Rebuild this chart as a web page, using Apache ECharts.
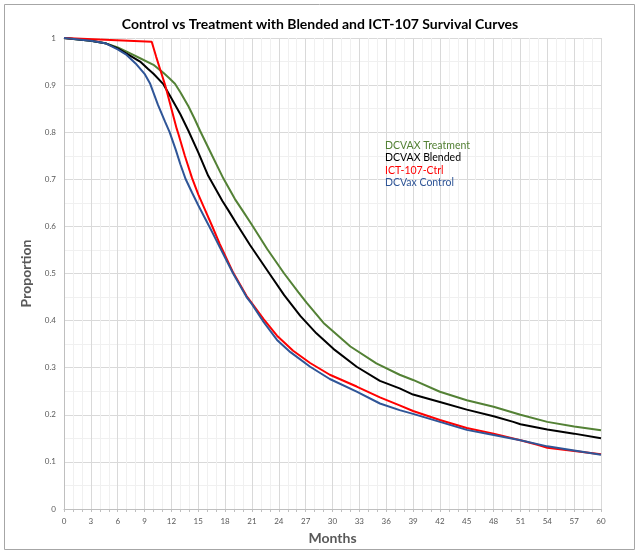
<!DOCTYPE html>
<html>
<head>
<meta charset="utf-8">
<script src="https://cdn.jsdelivr.net/npm/echarts@6/dist/echarts.min.js"></script>
<style>
html,body{margin:0;padding:0;background:#fff;}
#chart{width:640px;height:556px;}
</style>
</head>
<body>
<div id="chart"></div>
<script>
const seriesNames = ['DCVAX Treatment', 'DCVAX Blended', 'ICT-107-Ctrl', 'DCVax Control'];

const treatmentMonths = [0, 3, 4.6, 6, 7, 8.5, 10, 11.1, 11.8, 12.4, 13.0, 13.9, 14.6, 15.2, 16.3, 17.8, 19.1, 19.9, 20.9, 22.7, 24.6, 26.2, 27.1, 29, 32, 34.9, 37.5, 39, 42, 45, 48, 51, 54, 57, 60];
const treatmentValues = [1, 0.994, 0.989, 0.98, 0.971, 0.957, 0.943, 0.926, 0.914, 0.903, 0.885, 0.855, 0.828, 0.803, 0.760, 0.702, 0.658, 0.635, 0.606, 0.552, 0.500, 0.460, 0.438, 0.395, 0.345, 0.309, 0.285, 0.274, 0.249, 0.231, 0.217, 0.200, 0.185, 0.175, 0.167];

const blendedMonths = [0, 3, 4.6, 6, 7, 8.5, 9.4, 10, 11.1, 12, 13, 13.9, 15, 16.1, 17.7, 18.4, 19.3, 20.8, 22.7, 24.6, 26.4, 28.2, 30.1, 32.7, 35.3, 37.5, 39, 42, 45, 48, 50.2, 51, 54, 57, 60];
const blendedValues = [1, 0.994, 0.989, 0.978, 0.967, 0.950, 0.934, 0.924, 0.902, 0.872, 0.838, 0.803, 0.757, 0.708, 0.654, 0.633, 0.605, 0.560, 0.507, 0.454, 0.410, 0.373, 0.340, 0.302, 0.272, 0.256, 0.243, 0.227, 0.211, 0.197, 0.185, 0.180, 0.169, 0.160, 0.150];

const ictMonths = [0, 9.8, 10.3, 10.8, 11.3, 12.0, 12.6, 12.8, 13.5, 14.3, 15.0, 15.6, 16.5, 17.4, 18.9, 20.4, 20.8, 22.3, 23.8, 25.6, 27.5, 29.7, 32.7, 35.3, 37.5, 39, 42, 45, 48, 51, 53, 54, 57, 60];
const ictValues = [1, 0.992, 0.96, 0.93, 0.90, 0.85, 0.807, 0.795, 0.750, 0.703, 0.668, 0.642, 0.603, 0.563, 0.502, 0.452, 0.442, 0.403, 0.368, 0.336, 0.310, 0.285, 0.260, 0.237, 0.220, 0.208, 0.189, 0.172, 0.160, 0.146, 0.136, 0.130, 0.123, 0.116];

const controlMonths = [0, 3, 4.6, 6, 7, 8, 9, 9.6, 10.5, 11.3, 11.8, 12.5, 13.0, 13.6, 14.3, 15.0, 15.9, 16.5, 17.4, 18.9, 20.4, 21.0, 22.3, 23.8, 25.3, 27.5, 29.7, 32.7, 35.3, 37.5, 39, 42, 45, 48, 51, 54, 57, 60];
const controlValues = [1, 0.994, 0.989, 0.976, 0.964, 0.946, 0.924, 0.904, 0.858, 0.822, 0.800, 0.762, 0.732, 0.700, 0.672, 0.645, 0.612, 0.590, 0.556, 0.500, 0.450, 0.435, 0.397, 0.359, 0.333, 0.302, 0.276, 0.249, 0.224, 0.210, 0.202, 0.185, 0.168, 0.157, 0.146, 0.133, 0.124, 0.115];

const colors = ['#538135', '#000000', '#ff0000', '#2f5597'];

function pairs(xs, ys) { return xs.map((x, i) => [x, ys[i]]); }

const chart = echarts.init(document.getElementById('chart'), null, {renderer: 'canvas'});
const fontFam = 'Lato, "Liberation Sans", sans-serif';
chart.setOption({
  animation: false,
  backgroundColor: '#fff',
  title: {
    text: 'Control vs Treatment with Blended and ICT-107 Survival Curves',
    left: 'center',
    top: 12,
    textStyle: {fontFamily: fontFam, fontSize: 14, fontWeight: 'bold', color: '#000'}
  },
  graphic: [{
    type: 'rect',
    shape: {x: 4.5, y: 4.5, width: 630, height: 545},
    style: {fill: 'none', stroke: '#a6a6a6', lineWidth: 1},
    silent: true
  }],
  legend: {
    orient: 'vertical',
    left: 375,
    top: 135,
    itemGap: 1.5,
    itemWidth: 0,
    itemHeight: 0,
    icon: 'rect',
    textStyle: {fontFamily: fontFam, fontSize: 10.5},
    data: seriesNames.map((n, i) => ({name: n, textStyle: {color: colors[i]}}))
  },
  grid: {left: 64, right: 39, top: 38, bottom: 47, containLabel: false},
  xAxis: {
    type: 'value', min: 0, max: 60, interval: 3,
    name: 'Months', nameLocation: 'middle', nameGap: 22,
    nameTextStyle: {fontFamily: fontFam, fontSize: 14, fontWeight: 'bold', color: '#595959'},
    axisLine: {lineStyle: {color: '#bfbfbf'}},
    axisTick: {show: true, length: 3, lineStyle: {color: '#bfbfbf'}},
    minorTick: {show: true, splitNumber: 3, length: 3, lineStyle: {color: '#bfbfbf'}},
    axisLabel: {fontFamily: fontFam, fontSize: 8, color: '#595959', margin: 8},
    splitLine: {show: true, lineStyle: {color: '#d9d9d9', width: 1}},
    minorSplitLine: {show: true, lineStyle: {color: '#f0f0f0', width: 1}}
  },
  yAxis: {
    type: 'value', min: 0, max: 1, interval: 0.1,
    name: 'Proportion', nameLocation: 'middle', nameGap: 24,
    nameTextStyle: {fontFamily: fontFam, fontSize: 14, fontWeight: 'bold', color: '#595959'},
    axisLine: {show: true, lineStyle: {color: '#bfbfbf'}},
    axisTick: {show: false},
    minorTick: {show: false, splitNumber: 2},
    axisLabel: {fontFamily: fontFam, fontSize: 8, color: '#595959', margin: 8},
    splitLine: {show: true, lineStyle: {color: '#d9d9d9', width: 1}},
    minorSplitLine: {show: true, lineStyle: {color: '#f0f0f0', width: 1}}
  },
  series: [
    {name: seriesNames[0], type: 'line', data: pairs(treatmentMonths, treatmentValues)},
    {name: seriesNames[1], type: 'line', data: pairs(blendedMonths, blendedValues)},
    {name: seriesNames[2], type: 'line', data: pairs(ictMonths, ictValues)},
    {name: seriesNames[3], type: 'line', data: pairs(controlMonths, controlValues)}
  ].map((s, i) => Object.assign(s, {
    showSymbol: false, symbol: 'none', color: colors[i],
    lineStyle: {width: 2, color: colors[i]}, z: 2 + i
  }))
});
</script>
</body>
</html>
